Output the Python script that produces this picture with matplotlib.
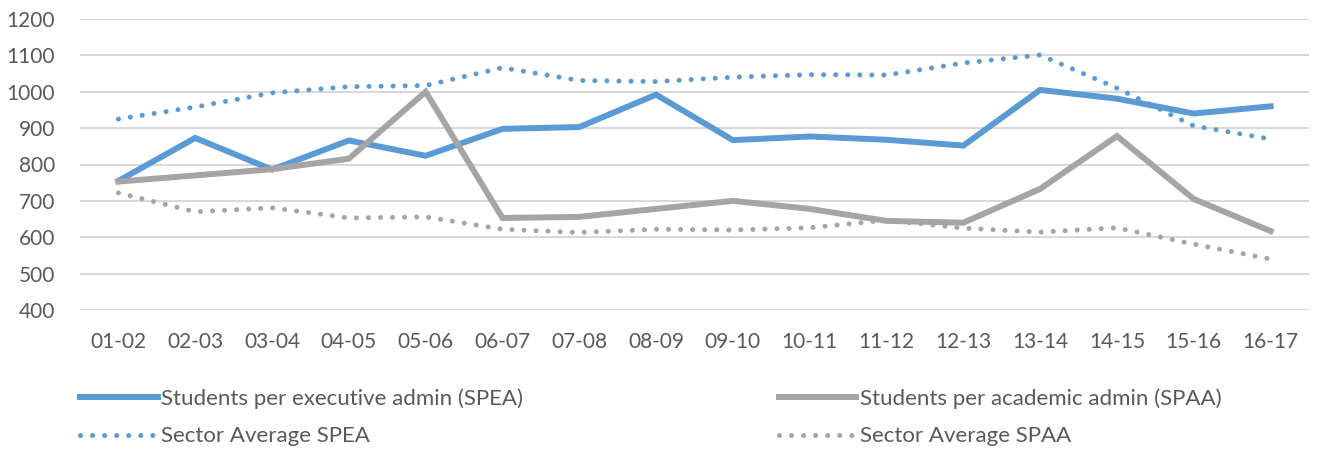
import matplotlib.pyplot as plt

# years on the x axis
years = ['01-02', '02-03', '03-04', '04-05', '05-06', '06-07', '07-08', '08-09',
         '09-10', '10-11', '11-12', '12-13', '13-14', '14-15', '15-16', '16-17']

# values
spea = [755, 873, 786, 866, 824, 898, 903, 992, 867, 877, 868, 852, 1005, 981, 940, 960]
spaa = [753, 770, 787, 816, 1000, 653, 656, 678, 700, 678, 645, 640, 733, 878, 705, 617]
sector_spea = [925, 958, 997, 1014, 1017, 1066, 1031, 1028, 1040, 1047, 1046, 1079, 1101, 1010, 906, 870]
sector_spaa = [722, 670, 681, 653, 656, 622, 613, 622, 620, 626, 647, 625, 614, 626, 581, 540]

blue = '#5B9BD5'
grey = '#A5A5A5'
text_col = '#595959'

plt.rcParams['font.family'] = ['Lato', 'DejaVu Sans']

fig = plt.figure(figsize=(13.19, 4.54), dpi=100)
ax = fig.add_axes([80 / 1319, 1 - 310 / 454, 1229 / 1319, 291 / 454])

x = list(range(len(years)))
dots = (0, (0.01, 2.4))

l1, = ax.plot(x, spea, color=blue, lw=4.3, solid_joinstyle='miter', label='Students per executive admin (SPEA)')
l2, = ax.plot(x, spaa, color=grey, lw=4.3, solid_joinstyle='miter', label='Students per academic admin (SPAA)')
l3, = ax.plot(x, sector_spea, color=blue, lw=3.6, linestyle=dots, dash_capstyle='round', label='Sector Average SPEA')
l4, = ax.plot(x, sector_spaa, color=grey, lw=3.6, linestyle=dots, dash_capstyle='round', label='Sector Average SPAA')

ax.set_xlim(-0.5, len(years) - 0.5)
ax.set_ylim(400, 1200)
ax.set_yticks(range(400, 1201, 100))
ax.set_xticks(x)
ax.set_xticklabels(years)
ax.tick_params(length=0, labelsize=15, colors=text_col)
ax.tick_params(axis='x', pad=16)
ax.tick_params(axis='y', pad=18)
ax.grid(axis='y', color='#D9D9D9', lw=1.5)
ax.set_axisbelow(True)
for s in ax.spines.values():
    s.set_visible(False)

fig.legend([l1, l3, l2, l4], [l1.get_label(), l3.get_label(), l2.get_label(), l4.get_label()],
           ncol=2, loc='upper left', bbox_to_anchor=(80 / 1319, 1 - 388 / 454),
           frameon=False, fontsize=16, labelcolor=text_col, handlelength=3.5,
           handletextpad=0.15, columnspacing=11.5, labelspacing=0.8, borderaxespad=0, borderpad=0)

fig.savefig('out.png', dpi=100)
